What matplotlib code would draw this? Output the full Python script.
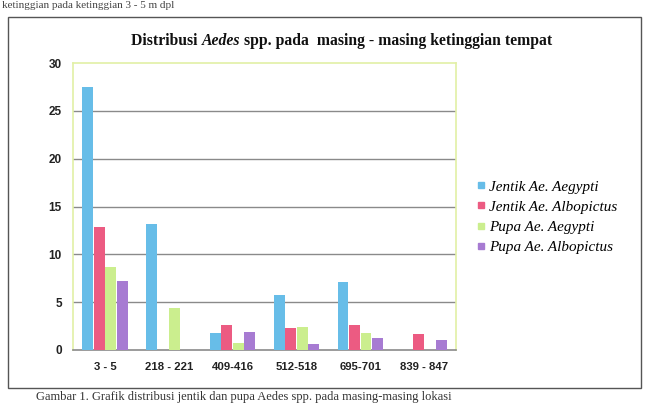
import matplotlib
matplotlib.use('Agg')
import matplotlib.pyplot as plt
from matplotlib.patches import Rectangle
from matplotlib.lines import Line2D
import numpy as np

# data
categories = ['3 - 5', '218 - 221', '409-416', '512-518', '695-701', '839 - 847']
series_names = ['Jentik Ae. Aegypti', 'Jentik Ae. Albopictus',
                'Pupa Ae. Aegypti', 'Pupa Ae. Albopictus']
jentik_aegypti = [27.5, 13.2, 1.8, 5.8, 7.1, 0]
jentik_albopictus = [12.9, 0, 2.6, 2.3, 2.6, 1.7]
pupa_aegypti = [8.7, 4.4, 0.7, 2.4, 1.8, 0]
pupa_albopictus = [7.2, 0, 1.9, 0.6, 1.3, 1.0]
series = [jentik_aegypti, jentik_albopictus, pupa_aegypti, pupa_albopictus]
colors = ['#67BDE8', '#EC5B82', '#CBEE8E', '#A77BD2']

fig = plt.figure(figsize=(6.49, 4.05), dpi=100)
fig.patch.set_facecolor('white')

# outer frame of the chart
fig.patches.append(Rectangle((8/649, 1-388/405), 633/649, 371/405,
                             transform=fig.transFigure, fill=False,
                             edgecolor='#555555', linewidth=1.0))

ax = fig.add_axes([73/649, 1-350/405, 383/649, 287/405])
x = np.arange(len(categories))
w = 0.18
for i, (vals, c) in enumerate(zip(series, colors)):
    ax.bar(x + (i-1.5)*w, vals, width=w*0.94, color=c, label=series_names[i], zorder=3)

ax.set_xlim(-0.5, len(categories)-0.5)
ax.set_ylim(0, 30)
ax.set_yticks(range(0, 31, 5))
for yv in range(5, 30, 5):
    ax.axhline(yv, color='#8a8a8a', linewidth=1.0, zorder=1)
for s in ['left', 'top', 'right']:
    ax.spines[s].set_color('#e2f0a6')
    ax.spines[s].set_linewidth(1.2)
ax.spines['bottom'].set_color('#8a8a8a')
ax.spines['bottom'].set_linewidth(1.2)
ax.tick_params(axis='y', length=0, pad=8, labelsize=8.5, labelcolor='#222222')
ax.tick_params(axis='x', length=0, pad=8.5, labelsize=8.2, labelcolor='#222222')
ax.set_xticks(x)
ax.set_xticklabels(categories)
for lab in ax.get_xticklabels() + ax.get_yticklabels():
    lab.set_fontweight('bold')
    lab.set_family('Liberation Sans')

# title with italic genus name
fig.canvas.draw()
r = fig.canvas.get_renderer()
parts = [('Distribusi ', 'normal'), ('Aedes', 'italic'),
         (' spp. pada  masing - masing ketinggian tempat', 'normal')]
texts = []
for s, st in parts:
    t = fig.text(0, 1-41/405, s, fontsize=11.3, fontweight='bold', style=st,
                 family='Liberation Serif', va='center', ha='left', color='#111111')
    texts.append(t)
widths = [t.get_window_extent(r).width for t in texts]
xpos = 342 - sum(widths)/2
for t, wd in zip(texts, widths):
    t.set_x(xpos/649)
    xpos += wd

# legend
handles = [Line2D([], [], marker='s', linestyle='none', markersize=5,
                  markerfacecolor=c, markeredgecolor=c) for c in colors]
leg = fig.legend(handles, series_names, loc='upper left',
                 bbox_to_anchor=(478/649, 1-180/405), frameon=False,
                 prop={'family': 'Liberation Serif', 'style': 'italic', 'size': 10.9},
                 handlelength=0.45, handletextpad=0.3, labelspacing=0.43,
                 borderaxespad=0, borderpad=0)

# surrounding document text
fig.text(2/649, 1-6/405, 'ketinggian pada ketinggian 3 - 5 m dpl', fontsize=8,
         family='Liberation Serif', va='center', ha='left', color='#444444')
fig.text(36/649, 1-397/405,
         'Gambar 1. Grafik distribusi jentik dan pupa Aedes spp. pada masing-masing lokasi',
         fontsize=9, family='Liberation Serif', va='center', ha='left', color='#333333')

fig.savefig('out.png', dpi=100, facecolor='white')
